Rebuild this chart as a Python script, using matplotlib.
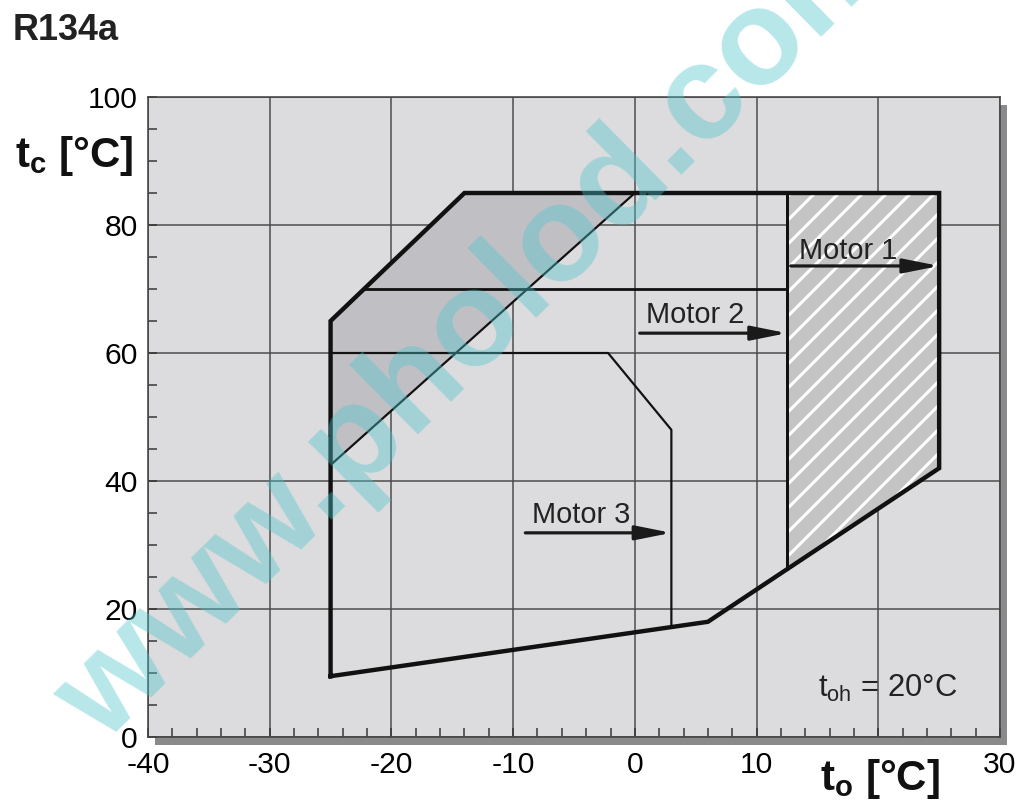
import matplotlib
matplotlib.use("Agg")
import matplotlib.pyplot as plt
from matplotlib.patches import Polygon, Rectangle
from matplotlib.ticker import MultipleLocator

# envelope data (t_o, t_c)
outer_x = [-25, -25, -14, 25, 25, 6, -25]
outer_y = [9.5, 65, 85, 85, 42, 18, 9.5]
shade_x = [-25, -25, -14, 0]
shade_y = [42.5, 65, 85, 85]
hatch_x = [12.5, 25, 25, 12.5]
hatch_y = [85, 85, 42, 26.2]
motor2_x = [-22.3, 12.5, 12.5]
motor2_y = [70, 70, 85]
motor2_edge_y = [85, 26.2]
motor3_x = [-25, -2.2, 3, 3]
motor3_y = [60, 60, 48, 17.3]

labels = ["Motor 1", "Motor 2", "Motor 3"]
label_xy = [(13.5, 74.7), (0.9, 64.7), (-8.45, 33.4)]
arrow_from = [(12.8, 73.6), (0.4, 63.1), (-9.0, 31.9)]
arrow_to = [(25, 73.6), (12.5, 63.1), (3, 31.9)]

xticks = [-40, -30, -20, -10, 0, 10, 20, 30]
xticklabels = ["-40", "-30", "-20", "-10", "0", "10", "", "30"]
yticks = [0, 20, 40, 60, 80, 100]

plt.rcParams["font.family"] = ["Liberation Sans", "DejaVu Sans"]
plt.rcParams["mathtext.fontset"] = "custom"
plt.rcParams["mathtext.rm"] = "Liberation Sans"
plt.rcParams["mathtext.bf"] = "Liberation Sans:bold"
plt.rcParams["axes.unicode_minus"] = False
plt.rcParams["hatch.linewidth"] = 1.5

dpi = 144
fig = plt.figure(figsize=(1027 / dpi, 805 / dpi), dpi=dpi)
W, H = 1027, 805
left, bottom = 148 / W, (805 - 737) / H
width, height = (1000 - 148) / W, (737 - 97) / H
ax = fig.add_axes([left, bottom, width, height])
ax.set_facecolor("#dcdcde")

# drop shadow
fig.add_artist(Rectangle((left + 7 / W, bottom - 8 / H), width, height,
                         transform=fig.transFigure, facecolor="#8a8a8a",
                         edgecolor="none", zorder=-1))

ax.set_xlim(-40, 30)
ax.set_ylim(0, 100)
ax.set_xticks(xticks)
ax.set_xticklabels(xticklabels)
ax.set_yticks(yticks)
ax.xaxis.set_minor_locator(MultipleLocator(2))
ax.yaxis.set_minor_locator(MultipleLocator(5))
ax.tick_params(which="both", direction="in", length=4.5, width=0.75,
               color="#333333", labelsize=15, top=False, right=False)
ax.tick_params(axis="x", pad=7)
ax.tick_params(axis="y", pad=5)
ax.grid(True, which="major", color="#4a4a4a", lw=0.75)
ax.set_axisbelow(True)
for s in ax.spines.values():
    s.set_color("#444444")
    s.set_linewidth(0.8)

ax.add_patch(Polygon(list(zip(shade_x, shade_y)), closed=True,
                     facecolor="#c0c0c4", edgecolor="none", zorder=2))
ax.add_patch(Polygon(list(zip(hatch_x, hatch_y)), closed=True,
                     facecolor="#c4c4c4", edgecolor="white", lw=0,
                     hatch="//", zorder=2))

ax.plot(shade_x[::3], shade_y[::3], color="#111111", lw=1.1, zorder=3)
ax.plot(motor2_x[:2], motor2_y[:2], color="#111111", lw=1.4, zorder=3)
ax.plot([motor2_x[2]] * 2, motor2_edge_y, color="#111111", lw=1.5, zorder=3)
ax.plot(motor3_x, motor3_y, color="#111111", lw=1.1, zorder=3)
ax.plot(outer_x, outer_y, color="#111111", lw=2.2, zorder=4,
        solid_joinstyle="miter")

for lab, (tx, ty), p0, p1 in zip(labels, label_xy, arrow_from, arrow_to):
    ax.text(tx, ty, lab, fontsize=14.5, color="#222222", ha="left",
            va="baseline", zorder=5)
    ax.annotate("", xy=p1, xytext=p0,
                arrowprops=dict(arrowstyle="-|>,head_length=1.5,head_width=0.3",
                                mutation_scale=10, lw=1.6, color="#1a1a1a",
                                shrinkA=0, shrinkB=0), zorder=5)

ax.text(15.05, 6.25, r"$\mathregular{t_{oh}}$ = 20°C", fontsize=15.5,
        color="#222222", ha="left", va="baseline", zorder=5)

fig.text(13 / W, 1 - 40 / H, "R134a", fontsize=18, fontweight="bold",
         color="#222222", ha="left", va="baseline")
fig.text(15 / W, 1 - 167 / H, r"$\mathbf{t_c}$ [°C]", fontsize=21,
         fontweight="bold", color="#111111", ha="left", va="baseline")
fig.text(880 / W, 1 - 790 / H, r"$\mathbf{t_o}$ [°C]", fontsize=21,
         fontweight="bold", color="#111111", ha="center", va="baseline")

# watermark
fig.text(104 / W, 1 - 745 / H, "www.pholod.com", fontsize=68,
         fontweight="bold", family="Liberation Sans", color="#4cc4cc",
         alpha=0.4, rotation=44.6, rotation_mode="anchor", ha="left",
         va="baseline", zorder=10)

fig.savefig("out.png", dpi=dpi)
